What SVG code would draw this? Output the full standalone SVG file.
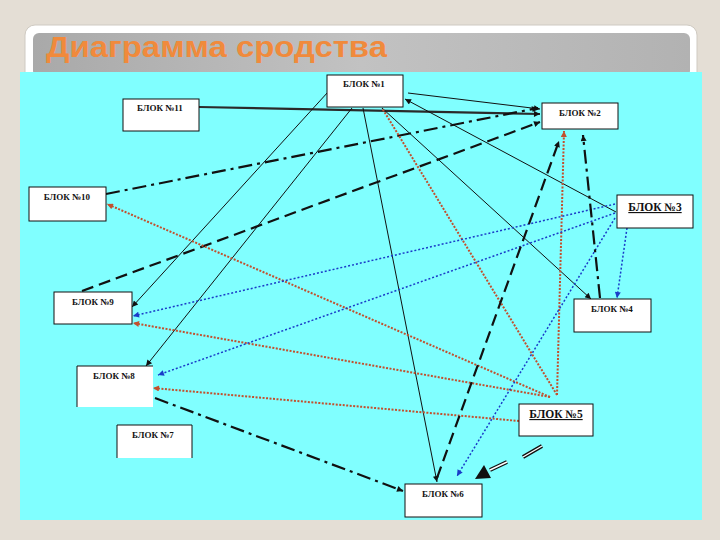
<svg xmlns="http://www.w3.org/2000/svg" width="720" height="540" viewBox="0 0 720 540">
<defs>
<linearGradient id="bar" x1="0" y1="0" x2="1" y2="0">
<stop offset="0" stop-color="#a9a9a9"/>
<stop offset="0.5" stop-color="#c2c2c2"/>
<stop offset="1" stop-color="#b2b2b2"/>
</linearGradient>
<marker id="ak" viewBox="0 0 10 10" refX="10" refY="5" markerWidth="8" markerHeight="6" markerUnits="userSpaceOnUse" orient="auto"><path d="M0,0 L10,5 L0,10 z" fill="#111"/></marker>
<marker id="ab" viewBox="0 0 10 10" refX="10" refY="5" markerWidth="7" markerHeight="6" markerUnits="userSpaceOnUse" orient="auto"><path d="M0,0 L10,5 L0,10 z" fill="#1a3cc8"/></marker>
<marker id="ar" viewBox="0 0 10 10" refX="10" refY="5" markerWidth="7" markerHeight="6" markerUnits="userSpaceOnUse" orient="auto"><path d="M0,0 L10,5 L0,10 z" fill="#c2502e"/></marker>
</defs>
<style>
.box{fill:#fff;stroke:#111;stroke-width:1}
.edge{fill:none;stroke:#111;stroke-width:1}
.lbl{font-family:"Liberation Serif","Times New Roman",serif;font-weight:bold;font-size:9px;fill:#111;text-anchor:middle}
.big{font-size:11.5px;text-decoration:underline}
.thin{fill:none;stroke:#111;stroke-width:1;marker-end:url(#ak)}
.thick{fill:none;stroke:#2a2a2a;stroke-width:2.2;marker-end:url(#ak)}
.dashdot{fill:none;stroke:#111;stroke-width:2.2;stroke-dasharray:14 5 3 5;marker-end:url(#ak)}
.dash{fill:none;stroke:#111;stroke-width:2.2;stroke-dasharray:12 6;marker-end:url(#ak)}
.red{fill:none;stroke:#c2502e;stroke-width:2;stroke-dasharray:2 1.5;marker-end:url(#ar)}
.blue{fill:none;stroke:#1a3cc8;stroke-width:1.5;stroke-dasharray:2 2;marker-end:url(#ab)}
</style>
<rect x="0" y="0" width="720" height="540" fill="#e4ded5"/>
<rect x="25" y="25" width="672" height="490" rx="10" fill="#fff" stroke="#cfcac2" stroke-width="1"/>
<rect x="33" y="33" width="657" height="44" rx="6" fill="url(#bar)"/>
<text x="46" y="57" font-family="Liberation Sans, Arial, sans-serif" font-weight="bold" font-size="29" fill="#f08a3c" textLength="341" lengthAdjust="spacingAndGlyphs">Диаграмма сродства</text>
<rect x="20" y="72" width="682" height="448" fill="#80ffff"/>

<g id="connectors">
<path class="thin" d="M408,93 L540,109"/>
<path class="thick" d="M199,107 L540,114"/>
<path class="dashdot" d="M106,194 L538,108"/>
<path class="dash" d="M82,291 L540,122"/>
<path class="thin" d="M328,92 L132,307"/>
<path class="thin" d="M352,108 L146,366"/>
<path class="thin" d="M363,108 L437,482"/>
<path class="thin" d="M382,108 L591,299"/>
<path class="thin" d="M616,212 L405,99"/>
<path class="red" style="marker-end:none" d="M557,395 L382,108"/>
<path class="red" d="M557,395 L564,131"/>
<path class="red" d="M550,397 L107,204"/>
<path class="red" d="M550,397 L133,323"/>
<path class="red" d="M519,421 L153,388"/>
<path class="blue" d="M615,204 L133,316"/>
<path class="blue" d="M615,213 L158,375"/>
<path class="blue" d="M627,228 L617,298"/>
<path class="blue" d="M615,218 L457,476"/>
<path class="dash" d="M437,478 L559,141"/>
<path class="dashdot" d="M600,298 L583,135"/>
<path class="dashdot" d="M155,398 L403,491"/>
<g id="double-arrow">
<path d="M523,457 L542,446 M490,470 L507,462" fill="none" stroke="#111" stroke-width="4"/>
<path d="M523,457 L542,446 M490,470 L507,462" fill="none" stroke="#fff" stroke-width="1.4"/>
<path d="M475,479 L484,465 L491,478 z" fill="#111"/>
</g>
</g>

<g id="block1"><rect class="box" x="327" y="75" width="76" height="32"/><text class="lbl" x="364" y="87">БЛОК №1</text></g>
<g id="block11"><rect class="box" x="123" y="99" width="76" height="32"/><text class="lbl" x="160" y="111">БЛОК №11</text></g>
<g id="block2"><rect class="box" x="542" y="103" width="76" height="26"/><text class="lbl" x="580" y="116">БЛОК №2</text></g>
<g id="block3"><rect class="box" x="617" y="195" width="76" height="33"/><text class="lbl big" x="655" y="211">БЛОК №3</text></g>
<g id="block10"><rect class="box" x="29" y="187" width="77" height="34"/><text class="lbl" x="67" y="200">БЛОК №10</text></g>
<g id="block9"><rect class="box" x="54" y="292" width="78" height="32"/><text class="lbl" x="93" y="305">БЛОК №9</text></g>
<g id="block4"><rect class="box" x="574" y="299" width="77" height="33"/><text class="lbl" x="612" y="312">БЛОК №4</text></g>
<g id="block8"><rect x="77" y="366" width="76" height="41" fill="#fff"/><path class="edge" d="M77,407 L77,366 L153,366"/><text class="lbl" x="114" y="379">БЛОК №8</text></g>
<g id="block5"><rect class="box" x="519" y="404" width="74" height="32"/><text class="lbl big" x="556" y="418">БЛОК №5</text></g>
<g id="block7"><rect x="117" y="425" width="75" height="33" fill="#fff"/><path class="edge" d="M117,458 L117,425 L192,425 L192,458"/><text class="lbl" x="153" y="438">БЛОК №7</text></g>
<g id="block6"><rect class="box" x="405" y="484" width="77" height="33"/><text class="lbl" x="443" y="497">БЛОК №6</text></g>
</svg>
